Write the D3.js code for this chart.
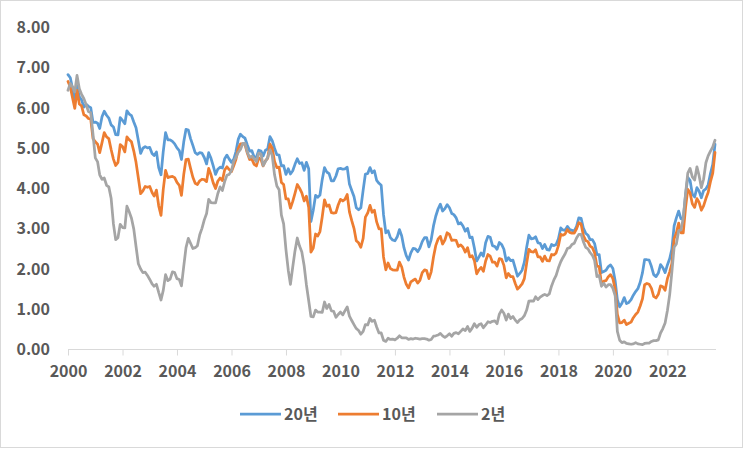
<!DOCTYPE html>
<html><head><meta charset="utf-8">
<script src="https://cdn.jsdelivr.net/npm/d3@7/dist/d3.min.js"></script>
<style>body{margin:0;background:#fff}svg{display:block}</style>
</head><body><svg id="c" width="743" height="449"></svg>
<script>
// Monthly yields, Jan 2000 .. Oct 2023
const seriesNames = ["20년", "10년", "2년"];
const y20 = [
6.83,6.75,6.49,6.18,6.55,6.28,6.20,6.02,6.09,6.04,6.01,5.64,
5.65,5.62,5.49,5.78,5.92,5.82,5.75,5.58,5.53,5.34,5.33,5.76,
5.69,5.61,5.93,5.85,5.81,5.65,5.51,5.19,4.87,5.00,5.04,5.01,
5.02,4.87,4.82,4.91,4.52,4.34,4.92,5.39,5.21,5.21,5.17,5.11,
5.01,4.94,4.72,5.16,5.47,5.45,5.24,5.07,4.89,4.85,4.89,4.88,
4.77,4.61,4.89,4.75,4.56,4.35,4.48,4.53,4.51,4.74,4.83,4.73,
4.65,4.73,4.91,5.22,5.35,5.29,5.25,5.08,4.93,4.94,4.78,4.78,
4.95,4.93,4.81,4.95,4.98,5.29,5.19,5.00,4.84,4.83,4.56,4.57,
4.35,4.49,4.36,4.44,4.60,4.74,4.62,4.64,4.45,4.65,4.49,3.18,
3.46,3.83,3.78,3.84,4.22,4.52,4.41,4.37,4.19,4.19,4.31,4.49,
4.50,4.48,4.49,4.53,4.11,3.95,3.80,3.52,3.47,3.52,3.96,4.36,
4.37,4.52,4.39,4.44,4.20,4.13,4.08,3.35,2.90,2.95,2.78,2.72,
2.70,2.80,2.98,2.82,2.53,2.33,2.22,2.40,2.51,2.50,2.43,2.52,
2.68,2.78,2.78,2.55,2.73,3.07,3.31,3.49,3.61,3.44,3.50,3.60,
3.52,3.38,3.35,3.27,3.12,3.15,3.07,2.94,3.01,2.78,2.79,2.52,
2.20,2.30,2.40,2.32,2.65,2.81,2.79,2.58,2.56,2.49,2.66,2.61,
2.49,2.20,2.28,2.21,2.22,2.02,1.82,1.89,1.97,2.17,2.54,2.84,
2.75,2.76,2.80,2.65,2.64,2.51,2.61,2.48,2.47,2.61,2.58,2.61,
2.75,3.02,2.97,2.96,3.06,2.98,2.96,2.94,3.06,3.27,3.26,3.02,
2.89,2.84,2.73,2.73,2.63,2.36,2.36,1.91,1.94,1.97,2.06,2.10,
2.01,1.70,1.24,1.06,1.15,1.29,1.14,1.17,1.24,1.35,1.44,1.51,
1.67,1.91,2.23,2.23,2.22,2.06,1.86,1.81,1.90,2.11,2.03,1.91,
2.10,2.26,2.49,3.07,3.27,3.44,3.25,3.23,3.84,4.28,4.20,3.86,
3.79,4.02,3.94,3.77,3.95,3.99,4.09,4.37,4.60,5.10];
const y10 = [
6.66,6.52,6.26,5.99,6.44,6.10,6.05,5.83,5.80,5.74,5.72,5.24,
5.16,5.10,4.89,5.14,5.39,5.28,5.24,4.97,4.73,4.57,4.65,5.09,
5.04,4.91,5.28,5.21,5.16,4.93,4.65,4.26,3.87,3.94,4.05,4.03,
4.05,3.90,3.81,3.96,3.57,3.33,3.98,4.45,4.27,4.29,4.30,4.27,
4.15,4.08,3.83,4.35,4.72,4.73,4.50,4.28,4.13,4.10,4.19,4.23,
4.22,4.17,4.50,4.34,4.14,4.00,4.18,4.26,4.20,4.46,4.54,4.47,
4.42,4.57,4.72,4.99,5.11,5.11,5.09,4.88,4.72,4.73,4.60,4.56,
4.76,4.72,4.56,4.69,4.75,5.10,5.00,4.67,4.52,4.53,4.15,4.10,
3.74,3.74,3.51,3.68,3.88,4.10,4.01,3.89,3.69,3.81,3.53,2.42,
2.52,2.87,2.82,2.93,3.29,3.72,3.56,3.59,3.40,3.39,3.40,3.59,
3.73,3.69,3.73,3.85,3.42,3.20,3.01,2.70,2.65,2.54,2.76,3.29,
3.39,3.58,3.41,3.46,3.17,3.00,3.00,2.30,1.98,2.15,2.01,1.98,
1.97,1.97,2.17,2.05,1.80,1.62,1.53,1.68,1.72,1.75,1.65,1.72,
1.91,1.98,1.96,1.76,1.93,2.30,2.58,2.74,2.81,2.62,2.72,2.90,
2.86,2.71,2.72,2.71,2.56,2.60,2.54,2.42,2.53,2.30,2.33,2.21,
1.88,1.98,2.04,1.94,2.20,2.36,2.32,2.17,2.17,2.07,2.26,2.24,
2.09,1.78,1.89,1.81,1.81,1.64,1.50,1.56,1.63,1.76,2.14,2.49,
2.43,2.42,2.48,2.30,2.30,2.19,2.32,2.21,2.20,2.36,2.35,2.40,
2.58,2.86,2.84,2.87,2.98,2.91,2.89,2.89,3.00,3.15,3.12,2.83,
2.71,2.68,2.57,2.53,2.40,2.07,2.06,1.63,1.70,1.71,1.81,1.86,
1.76,1.50,0.87,0.66,0.67,0.73,0.62,0.65,0.68,0.79,0.87,0.93,
1.08,1.26,1.61,1.64,1.62,1.52,1.32,1.28,1.37,1.58,1.56,1.47,
1.76,1.93,2.13,2.75,2.90,3.14,2.90,2.90,3.52,3.98,3.89,3.62,
3.53,3.75,3.66,3.46,3.57,3.75,3.90,4.17,4.38,4.90];
const y2 = [
6.44,6.61,6.53,6.40,6.81,6.48,6.34,6.23,6.08,5.91,5.88,5.35,
4.76,4.66,4.34,4.23,4.26,4.08,4.04,3.76,3.12,2.73,2.78,3.11,
3.03,3.02,3.56,3.42,3.26,2.99,2.56,2.13,2.00,1.91,1.92,1.84,
1.74,1.63,1.57,1.62,1.42,1.23,1.47,1.86,1.71,1.75,1.93,1.91,
1.76,1.74,1.58,2.07,2.53,2.76,2.64,2.51,2.53,2.58,2.85,3.01,
3.22,3.38,3.73,3.65,3.64,3.64,3.87,4.04,3.95,4.17,4.33,4.35,
4.45,4.68,4.77,4.90,4.97,5.12,5.12,4.90,4.77,4.80,4.74,4.67,
4.88,4.85,4.57,4.67,4.77,4.96,4.82,4.34,4.06,3.97,3.34,3.12,
2.48,1.97,1.62,2.05,2.45,2.77,2.57,2.42,2.08,1.61,1.21,0.82,
0.81,0.98,0.93,0.93,0.92,1.18,1.02,1.12,0.96,0.95,0.80,0.87,
0.93,0.86,0.96,1.06,0.83,0.72,0.62,0.52,0.47,0.38,0.45,0.62,
0.61,0.77,0.70,0.73,0.56,0.41,0.41,0.23,0.20,0.28,0.25,0.26,
0.24,0.28,0.34,0.29,0.29,0.29,0.25,0.27,0.26,0.28,0.27,0.26,
0.27,0.27,0.26,0.23,0.25,0.33,0.34,0.36,0.40,0.34,0.30,0.34,
0.39,0.33,0.40,0.42,0.39,0.45,0.51,0.47,0.57,0.45,0.53,0.64,
0.55,0.62,0.64,0.54,0.61,0.69,0.67,0.70,0.71,0.64,0.88,0.98,
0.90,0.73,0.88,0.77,0.82,0.73,0.67,0.74,0.77,0.84,0.98,1.20,
1.21,1.20,1.31,1.24,1.30,1.34,1.37,1.34,1.38,1.58,1.73,1.84,
2.03,2.18,2.28,2.38,2.51,2.53,2.61,2.64,2.77,2.86,2.86,2.68,
2.54,2.50,2.41,2.34,2.21,1.81,1.84,1.57,1.65,1.55,1.61,1.61,
1.52,1.33,0.45,0.23,0.17,0.19,0.15,0.14,0.13,0.14,0.17,0.14,
0.13,0.12,0.15,0.16,0.16,0.20,0.22,0.22,0.24,0.41,0.52,0.66,
0.97,1.37,1.91,2.54,2.62,2.95,2.97,3.26,3.86,4.38,4.50,4.29,
4.21,4.54,4.33,4.02,4.23,4.64,4.81,4.93,5.03,5.20];
const yTicks = [0,1,2,3,4,5,6,7,8];
const xTickYears = [2000,2002,2004,2006,2008,2010,2012,2014,2016,2018,2020,2022];
const colors = ["#5B9BD5", "#ED7D31", "#A5A5A5"];

const dates = d3.timeMonth.range(new Date(2000,0,1), new Date(2023,10,1));
const svg = d3.select("#c");
const FONT = "'Noto Sans CJK KR','Noto Sans',sans-serif";
const TXT = "#595959";

svg.append("rect").attr("x",0.5).attr("y",0.5).attr("width",742).attr("height",447)
  .attr("fill","#fff").attr("stroke","#d9d9d9");

const x = d3.scaleTime().domain([dates[0], dates[dates.length-1]]).range([68, 715]);
const y = d3.scaleLinear().domain([0, 8]).range([349.5, 27.5]);

// y axis labels
const ya = svg.append("g").attr("transform","translate(50,0)")
  .call(d3.axisLeft(y).tickValues(yTicks).tickFormat(d3.format(".2f")).tickSize(0).tickPadding(0));
ya.select(".domain").remove();
ya.selectAll("text").attr("fill",TXT).style("font-family",FONT).style("font-size","16px").style("font-weight","bold");

// x axis
const xa = svg.append("g").attr("transform","translate(0,349.5)")
  .call(d3.axisBottom(x).tickValues(xTickYears.map(v=>new Date(v,0,1))).tickFormat(d3.timeFormat("%Y")).tickSize(6).tickPadding(10).tickSizeOuter(0));
xa.select(".domain").attr("stroke","#d9d9d9").attr("d","M68,0H716");
xa.selectAll(".tick line").attr("stroke","#d9d9d9");
xa.selectAll("text").attr("fill",TXT).style("font-family",FONT).style("font-size","16px").style("font-weight","bold");

const series = [y20, y10, y2];
const line = d3.line().x((d,i)=>x(dates[i])).y(d=>y(d));
series.forEach((s,k)=>{
  svg.append("path").datum(s).attr("d",line).attr("fill","none")
    .attr("stroke",colors[k]).attr("stroke-width",2.75)
    .attr("stroke-linejoin","round").attr("stroke-linecap","round");
});

// legend
const legX = [240, 338, 437];
const lg = svg.append("g");
seriesNames.forEach((n,k)=>{
  lg.append("line").attr("x1",legX[k]).attr("x2",legX[k]+41).attr("y1",414).attr("y2",414)
    .attr("stroke",colors[k]).attr("stroke-width",2.75);
  lg.append("text").attr("x",legX[k]+44).attr("y",414).attr("dy","0.35em")
    .attr("fill",TXT).style("font-family",FONT).style("font-size","16px").style("font-weight","bold").text(n);
});
</script></body></html>
